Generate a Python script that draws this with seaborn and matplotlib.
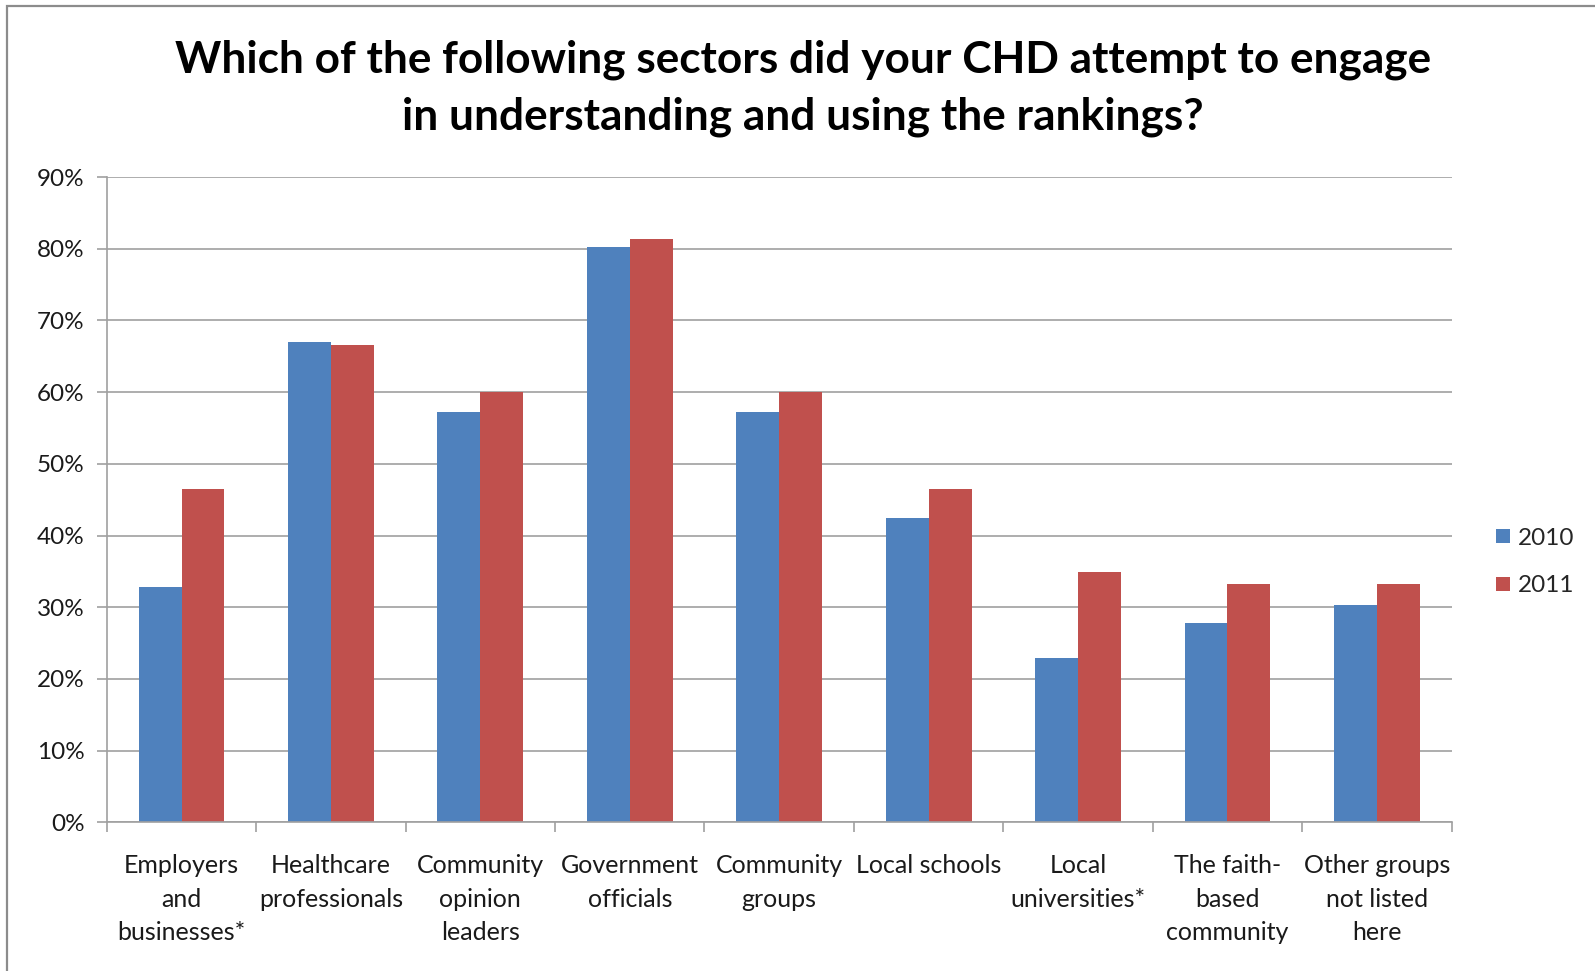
import matplotlib
matplotlib.use("Agg")
import matplotlib.pyplot as plt
from matplotlib.patches import Rectangle
from matplotlib.ticker import FixedLocator, FuncFormatter
from matplotlib.lines import Line2D
import seaborn as sns
import pandas as pd

categories = ["Employers\nand\nbusinesses*", "Healthcare\nprofessionals", "Community\nopinion\nleaders",
              "Government\nofficials", "Community\ngroups", "Local schools", "Local\nuniversities*",
              "The faith-\nbased\ncommunity", "Other groups\nnot listed\nhere"]
years = ["2010", "2011"]
values_2010 = [32.8, 67.0, 57.2, 80.2, 57.2, 42.5, 22.9, 27.8, 30.3]
values_2011 = [46.5, 66.5, 60.0, 81.4, 60.0, 46.5, 34.9, 33.3, 33.3]
yticks = [0, 10, 20, 30, 40, 50, 60, 70, 80, 90]
title = "Which of the following sectors did your CHD attempt to engage\nin understanding and using the rankings?"

df = pd.DataFrame({
    "Sector": categories * 2,
    "Year": [years[0]] * len(categories) + [years[1]] * len(categories),
    "Value": values_2010 + values_2011,
})

sns.set_theme(style="white")
plt.rcParams["font.family"] = ["Lato", "DejaVu Sans"]

W, H = 1595, 971
fig = plt.figure(figsize=(W / 100, H / 100), dpi=100)
fig.patch.set_facecolor("white")
ax = fig.add_axes([106.8 / W, 1 - 822.3 / H, (1451.6 - 106.8) / W, (822.3 - 177) / H])

sns.barplot(data=df, x="Sector", y="Value", hue="Year", order=categories, hue_order=years,
            palette=["#4F81BD", "#C0504D"], width=0.575, gap=0, linewidth=0, saturation=1,
            ax=ax, legend=False)

grid_c = "#A0A0A0"
ax.set_xlim(-0.5, len(categories) - 0.5)
ax.set_ylim(0, 90)
ax.yaxis.set_major_locator(FixedLocator(yticks))
ax.yaxis.set_major_formatter(FuncFormatter(lambda v, p: f"{int(v)}%"))
ax.grid(axis="y", color=grid_c, linewidth=1.2, zorder=0)
ax.set_axisbelow(True)
for s in ["top", "right"]:
    ax.spines[s].set_visible(False)
for s in ["left", "bottom"]:
    ax.spines[s].set_color(grid_c)
    ax.spines[s].set_linewidth(1.2)

ax.set_xlabel("")
ax.set_ylabel("")
ax.set_xticks(range(len(categories)))
ax.set_xticklabels(categories, fontsize=18, color="#1a1a1a", linespacing=1.55)
ax.set_xticks([i - 0.5 for i in range(len(categories) + 1)], minor=True)
ax.tick_params(axis="x", which="major", length=0, pad=23)
ax.tick_params(axis="x", which="minor", length=7, width=1.2, color=grid_c, direction="out", bottom=True)
ax.tick_params(axis="y", which="major", length=7, width=1.2, color=grid_c, direction="out", left=True,
               labelsize=17.5, labelcolor="#1a1a1a", pad=9)

fig.text(803 / W, 1 - 88 / H, title, ha="center", va="center", fontsize=31.8, fontweight="bold",
         linespacing=1.5, color="black")

handles = [Line2D([0], [0], marker="s", linestyle="none", markersize=10, markerfacecolor=c,
                  markeredgewidth=0) for c in ["#4F81BD", "#C0504D"]]
fig.legend(handles, years, loc="center left", bbox_to_anchor=(1481 / W, 1 - 562 / H), frameon=False,
           fontsize=17.5, handletextpad=0.2, labelspacing=1.1, handlelength=0.8, borderpad=0)

fig.add_artist(Rectangle((7 / W, -0.05), 1.1, 1 - 6 / H + 0.05, transform=fig.transFigure,
                         fill=False, edgecolor="#8C8C8C", linewidth=1.6))

fig.savefig("out.png", dpi=100)
